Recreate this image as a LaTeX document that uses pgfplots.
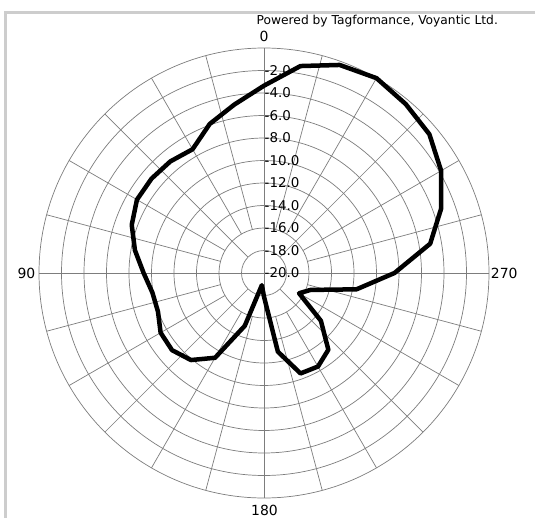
\documentclass[border=0pt]{standalone}
\usepackage{pgfplots}
\pgfplotsset{compat=1.18}
\usepackage{pgfplotstable}
\usepgfplotslibrary{polar}
\usepackage{fontspec}
\setmainfont{DejaVu Sans}
\definecolor{gridc}{RGB}{125,125,125}
\definecolor{framec}{RGB}{205,205,205}

\pgfplotstableread{
ang db
0 -3.35
10 -4.8
20 -5.9
30 -7.3
40 -7.05
50 -6.95
60 -6.96
70 -7.49
80 -8.35
90 -9.3
100 -9.93
110 -9.97
120 -9.39
130 -9.33
140 -9.9
150 -11.3
160 -15.0
170 -18.9
180 -17.9
190 -12.9
200 -10.5
210 -10.4
220 -11.1
230 -13.4
240 -16.4
250 -15.6
260 -11.65
270 -8.4
280 -5.0
290 -3.24
300 -1.82
310 -0.81
320 -0.4
330 0.0
340 -0.32
350 -1.32
360 -3.35
}\gaintable

\begin{document}
\begin{tikzpicture}
\useasboundingbox[fill=white] (-264bp,-245bp) rectangle (271bp,273bp);
\fill[framec] (-259.5bp,-245bp) rectangle (-256.5bp,261.5bp);
\fill[framec] (-259.5bp,258.5bp) rectangle (271bp,261.5bp);
\node[anchor=base west, inner sep=0pt, font=\fontsize{12.3}{14}\selectfont] at (-7.5bp,248.3bp) {Powered by Tagformance, Voyantic Ltd.};
\begin{polaraxis}[
  at={(0,0)}, anchor=center,
  width=450bp, height=450bp, scale only axis,
  ymin=0, ymax=20,
  xtick={0,90,180,270}, xticklabels={},
  ytick={2,4,...,18}, yticklabels={},
  xmajorgrids, ymajorgrids,
  grid style={draw=gridc, line width=0.7bp},
  axis line style={draw=gridc, line width=0.7bp},
  major tick style={draw=none},
  clip=false,
]
\foreach \a in {45,135,225,315}{
  \edef\tmp{\noexpand\draw[gridc, line width=0.7bp] (axis cs:\a,2) -- (axis cs:\a,20);}\tmp
}
\foreach \a in {15,30,60,75,105,120,150,165,195,210,240,255,285,300,330,345}{
  \edef\tmp{\noexpand\draw[gridc, line width=0.7bp] (axis cs:\a,4) -- (axis cs:\a,20);}\tmp
}
\foreach \v/\r in {2/18,4/16,6/14,8/12,10/10,12/8,14/6,16/4,18/2,20/0}{
  \edef\tmp{\noexpand\node[anchor=west, inner sep=0pt, xshift=0.5bp, font=\noexpand\fontsize{13.5}{15}\noexpand\selectfont] at (axis cs:90,\r) {-\v.0};}\tmp
}
\addplot[black, line width=4.5bp, line join=round, no markers] table[x expr=\thisrow{ang}+90, y expr=\thisrow{db}+20] {\gaintable};
\end{polaraxis}
\node[font=\fontsize{14}{16}\selectfont] at (0bp,237bp) {0};
\node[font=\fontsize{14}{16}\selectfont] at (-237.5bp,0bp) {90};
\node[font=\fontsize{14}{16}\selectfont] at (240.2bp,-0.7bp) {270};
\node[font=\fontsize{14}{16}\selectfont, inner sep=0pt] at (0.5bp,-237.5bp) {180};
\end{tikzpicture}
\end{document}
